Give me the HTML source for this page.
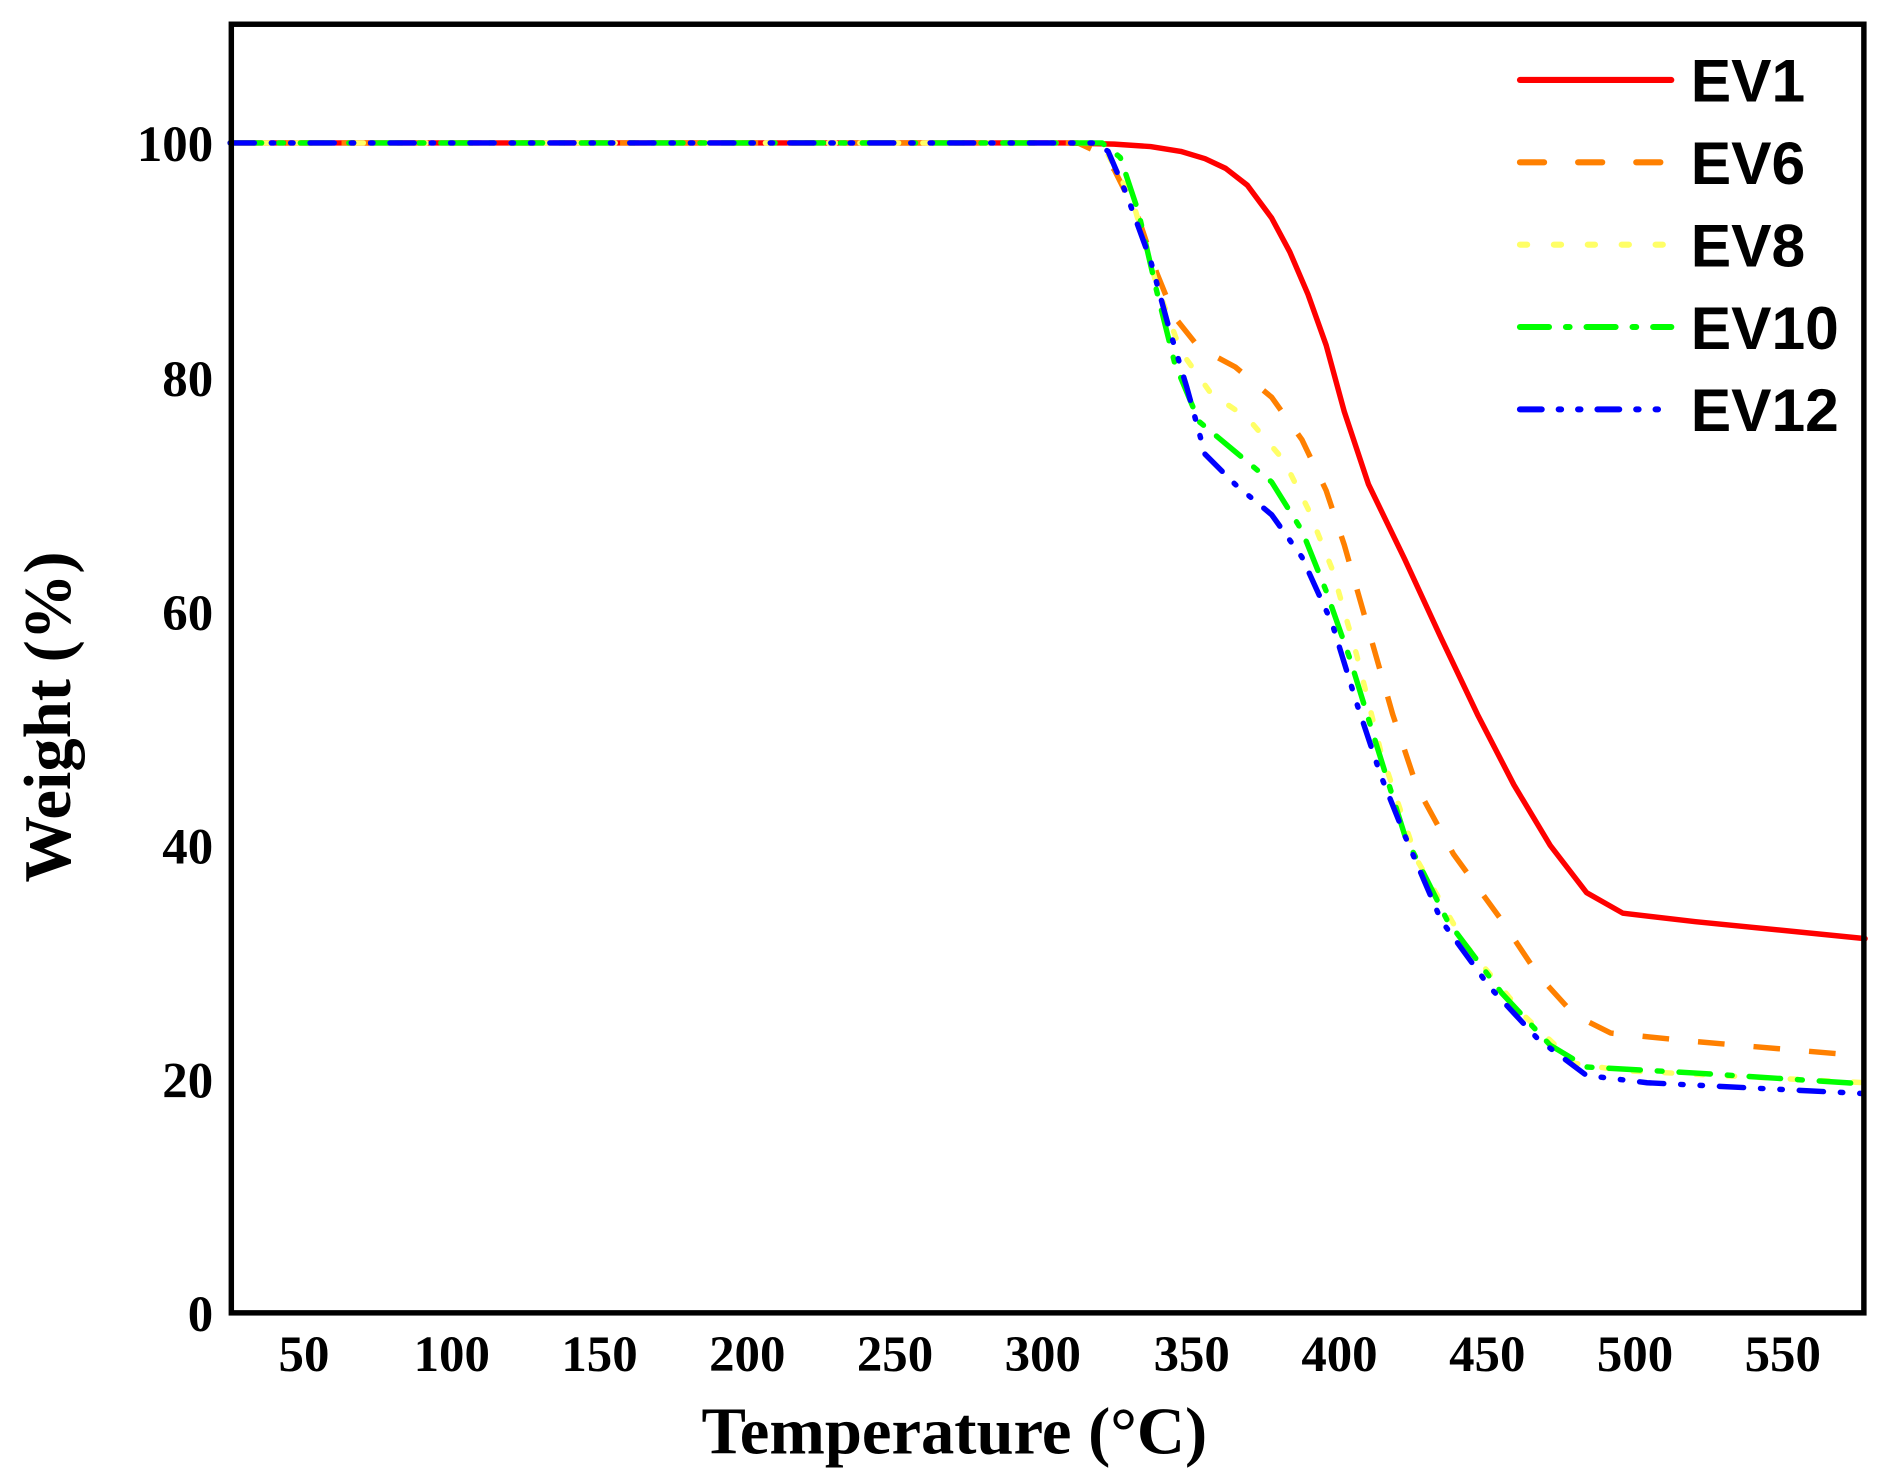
<!DOCTYPE html>
<html><head><meta charset="utf-8"><style>html,body{margin:0;padding:0;background:#fff}svg{display:block}</style></head>
<body>
<svg width="1899" height="1484" viewBox="0 0 1568 1225.3" xmlns="http://www.w3.org/2000/svg">
<rect width="1568" height="1226" fill="#fff"/>
<g fill="none" stroke-width="4.5" stroke-linejoin="round" stroke-linecap="round">
<polyline stroke="#ff0000" points="190,118 880,118 920,119 950,121 975,125 995,131 1012,139 1030,153 1050,180 1065,208 1080,243 1095,285 1110,340 1130,400 1160,462 1190,527 1220,590 1250,648 1280,698 1310,737 1340,754 1400,761 1540,775"/>
<polyline stroke="#ff8000" stroke-dasharray="22,24" stroke-linecap="butt" points="190,118 890,118 905,125 920,140 940,180 955,225 970,262 990,287 1020,303 1050,328 1075,363 1095,405 1110,450 1130,520 1150,590 1170,650 1200,705 1240,760 1270,805 1300,838 1330,853 1400,860 1540,872"/>
<polyline stroke="#ffff66" stroke-dasharray="6,20" points="190,118 900,118 915,128 935,165 955,235 975,290 1000,325 1030,345 1060,380 1080,420 1100,470 1120,540 1140,620 1170,710 1210,780 1260,840 1300,878 1340,884 1540,894"/>
<polyline stroke="#00ff00" stroke-dasharray="26,14,4,14" points="190,118 910,118 925,130 940,175 955,240 970,300 990,348 1020,373 1050,398 1075,438 1095,488 1115,545 1135,610 1160,690 1195,760 1240,820 1280,863 1310,881 1400,886 1540,895"/>
<polyline stroke="#0000ff" stroke-dasharray="20,14,2,14,2,14" points="190,118 905,118 915,125 930,160 950,215 965,270 980,320 995,375 1020,400 1050,425 1075,460 1100,515 1120,580 1140,640 1160,690 1190,760 1230,815 1270,858 1310,888 1360,894 1540,903"/>
</g>
<rect x="191" y="20" width="1348" height="1064" fill="none" stroke="#000" stroke-width="4.5"/>
<g font-family="Liberation Serif, serif" font-weight="bold" font-size="42" fill="#000">
<g text-anchor="end">
<text x="176" y="1099">0</text><text x="176" y="906">20</text><text x="176" y="713">40</text><text x="176" y="520">60</text><text x="176" y="327">80</text><text x="176" y="133">100</text>
</g>
<g text-anchor="middle">
<text x="251" y="1132">50</text><text x="373" y="1132">100</text><text x="495" y="1132">150</text><text x="617" y="1132">200</text><text x="739" y="1132">250</text><text x="861" y="1132">300</text><text x="984" y="1132">350</text><text x="1106" y="1132">400</text><text x="1228" y="1132">450</text><text x="1350" y="1132">500</text><text x="1472" y="1132">550</text>
</g>
<text x="788" y="1200" text-anchor="middle" font-size="55">Temperature (°C)</text>
<text transform="translate(58,592) rotate(-90)" text-anchor="middle" font-size="55">Weight (%)</text>
</g>
<g stroke-width="5" stroke-linecap="round">
<line x1="1255" y1="66" x2="1380" y2="66" stroke="#ff0000"/>
<line x1="1255" y1="134" x2="1380" y2="134" stroke="#ff8000" stroke-dasharray="20,28"/>
<line x1="1255" y1="202" x2="1380" y2="202" stroke="#ffff66" stroke-dasharray="6,22"/>
<line x1="1255" y1="270" x2="1380" y2="270" stroke="#00ff00" stroke-dasharray="24,14,3,14"/>
<line x1="1255" y1="338" x2="1380" y2="338" stroke="#0000ff" stroke-dasharray="18,14,2,14,2,14"/>
</g>
<g font-family="Liberation Sans, sans-serif" font-weight="bold" font-size="50" fill="#000">
<text x="1396" y="84">EV1</text><text x="1396" y="152">EV6</text><text x="1396" y="220">EV8</text><text x="1396" y="288">EV10</text><text x="1396" y="356">EV12</text>
</g>
</svg>
</body></html>
